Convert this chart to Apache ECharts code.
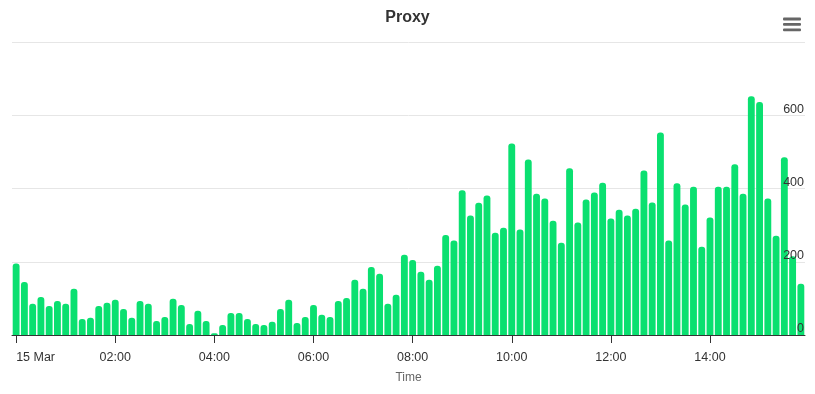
<!DOCTYPE html>
<html>
<head>
<meta charset="utf-8">
<script src="https://cdn.jsdelivr.net/npm/echarts@6/dist/echarts.min.js"></script>
<style>
html,body{margin:0;padding:0;background:#fff;}
#chart{width:815px;height:394px;}
</style>
</head>
<body>
<div id="chart"></div>
<script>
// 10-minute buckets from 00:00 to 15:50 on 15 Mar
var categories = [];
for (var h = 0; h < 16; h++) {
  for (var m = 0; m < 60; m += 10) {
    categories.push((h < 10 ? '0' : '') + h + ':' + (m < 10 ? '0' : '') + m);
  }
}
var tickLabels = ['15 Mar', '02:00', '04:00', '06:00', '08:00', '10:00', '12:00', '14:00'];
var yTicks = [0, 200, 400, 600, 800];
var proxyValues = [
  195, 145, 85, 104, 79, 93, 85, 126, 44, 47, 79, 88,
  96, 71, 47, 93, 85, 38, 49, 99, 82, 30, 66, 38,
  5, 27, 60, 60, 44, 30, 27, 36, 71, 96, 33, 49,
  82, 55, 49, 93, 101, 151, 126, 186, 167, 85, 110, 219,
  205, 173, 151, 189, 273, 258, 395, 326, 361, 381, 279, 293,
  523, 288, 479, 386, 373, 312, 252, 455, 307, 370, 389, 416,
  318, 342, 326, 345, 449, 362, 553, 258, 414, 356, 405, 241,
  321, 405, 405, 466, 386, 652, 636, 373, 271, 485, 215, 140
];

var FONT = '"Liberation Sans", Arial, Helvetica, sans-serif';
var chart = echarts.init(document.getElementById('chart'), null, {renderer: 'canvas'});
var option = {
  animation: false,
  backgroundColor: '#ffffff',
  textStyle: {fontFamily: FONT},
  title: {
    text: 'Proxy',
    left: 'center',
    top: 10,
    padding: 0,
    textStyle: {fontSize: 16, fontWeight: 'bold', color: '#333333', fontFamily: FONT}
  },
  grid: {left: 12, right: 10, top: 42, bottom: 59, containLabel: false},
  xAxis: {
    type: 'category',
    data: categories,
    boundaryGap: true,
    name: 'Time',
    nameLocation: 'middle',
    nameGap: 37,
    nameTextStyle: {color: '#666666', fontSize: 12, fontFamily: FONT},
    axisLine: {show: true, lineStyle: {color: '#333333', width: 1}},
    axisTick: {
      show: true, alignWithLabel: true, length: 8,
      lineStyle: {color: '#333333'},
      interval: function (i) { return i % 12 === 0; }
    },
    axisLabel: {
      color: '#333333', fontSize: 12.5, fontFamily: FONT, margin: 16,
      alignMinLabel: 'left',
      interval: function (i) { return i % 12 === 0; },
      formatter: function (v, i) { return tickLabels[i / 12] || ''; }
    },
    splitLine: {show: false}
  },
  yAxis: [
    {
      type: 'value', position: 'right', min: yTicks[0], max: yTicks[yTicks.length - 1], interval: 200,
      axisLine: {show: false}, axisTick: {show: false},
      axisLabel: {show: false},
      splitLine: {show: true, lineStyle: {color: '#e6e6e6', width: 1}}
    },
    {
      type: 'value', position: 'right', min: yTicks[0], max: yTicks[yTicks.length - 1], interval: 200,
      z: 10,
      axisLine: {show: false}, axisTick: {show: false},
      splitLine: {show: false},
      axisLabel: {
        inside: true, margin: 1, color: '#333333', fontSize: 12.5, fontFamily: FONT,
        align: 'right', verticalAlign: 'bottom', lineHeight: 12, padding: 0,
        showMaxLabel: false,
        formatter: function (v) { return v === 800 ? '' : String(v); }
      }
    }
  ],
  series: [{
    type: 'bar',
    yAxisIndex: 0,
    data: proxyValues,
    barWidth: '83%',
    itemStyle: {color: '#0ae070', borderRadius: [3, 3, 0, 0]}
  }],
  graphic: [
    {type: 'rect', shape: {x: 783, y: 17.6, width: 18, height: 2.8, r: 1}, style: {fill: '#666666'}},
    {type: 'rect', shape: {x: 783, y: 23.0, width: 18, height: 2.8, r: 1}, style: {fill: '#666666'}},
    {type: 'rect', shape: {x: 783, y: 28.4, width: 18, height: 2.8, r: 1}, style: {fill: '#666666'}}
  ]
};
chart.setOption(option);
</script>
</body>
</html>
